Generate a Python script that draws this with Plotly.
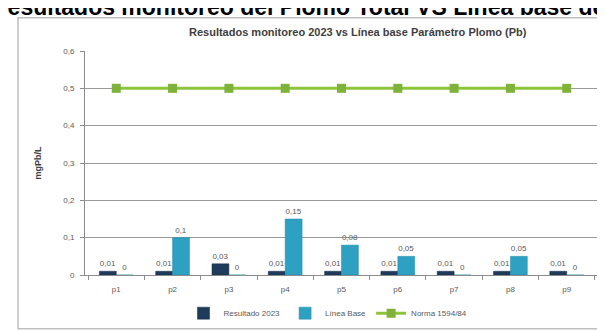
import plotly.graph_objects as go

categories = ["p1", "p2", "p3", "p4", "p5", "p6", "p7", "p8", "p9"]
resultado_2023 = [0.01, 0.01, 0.03, 0.01, 0.01, 0.01, 0.01, 0.01, 0.01]
linea_base = [0, 0.1, 0, 0.15, 0.08, 0.05, 0, 0.05, 0]
norma = [0.5, 0.5, 0.5, 0.5, 0.5, 0.5, 0.5, 0.5, 0.5]
y_ticks = [0, 0.1, 0.2, 0.3, 0.4, 0.5, 0.6]
y_tick_labels = ["0", "0,1", "0,2", "0,3", "0,4", "0,5", "0,6"]


def fmt(v):
    return ("%g" % v).replace(".", ",")


W, H = 605, 332
L, R, T, B = 77, 15, 43, 60
pw, ph = W - L - R, H - T - B


def px(x):
    return (x - L) / pw


def py(y):
    return (H - B - y) / ph


grey = "#595959"
fig = go.Figure()
fig.add_trace(go.Bar(
    x=categories, y=resultado_2023, name="Resultado 2023",
    marker=dict(color="#1f3b5c", line=dict(color="#16293f", width=0.5)),
    text=[fmt(v) for v in resultado_2023], textposition="outside",
    textfont=dict(size=8, color=grey), cliponaxis=False,
))
fig.add_trace(go.Bar(
    x=categories, y=linea_base, name="Línea Base",
    marker=dict(color="#2ea0c2", line=dict(color="#1f8aa8", width=0.5)),
    text=[fmt(v) for v in linea_base], textposition="outside",
    textfont=dict(size=8, color=grey), cliponaxis=False,
))
fig.add_trace(go.Scatter(
    x=categories, y=norma, name="Norma 1594/84", mode="lines+markers",
    line=dict(color="#8cc43c", width=3),
    marker=dict(symbol="square", size=9, color="#7fb23a"),
))

fig.update_layout(
    width=W, height=H,
    margin=dict(l=L, r=R, t=T, b=B),
    paper_bgcolor="white", plot_bgcolor="white",
    font=dict(family="Liberation Sans, Arial, sans-serif", size=8, color=grey),
    barmode="group", bargap=0.4, bargroupgap=0.0,
    showlegend=True,
    legend=dict(orientation="h", x=px(320), xanchor="center", y=py(311), yanchor="middle",
                font=dict(size=8, color=grey), traceorder="normal", itemwidth=30,
                bgcolor="rgba(0,0,0,0)"),
    xaxis=dict(showline=True, linecolor="#8c8c8c", ticks="outside", tickcolor="#8c8c8c",
               ticklen=4, tickson="boundaries", showgrid=False, ticklabelstandoff=6,
               tickfont=dict(size=8, color=grey)),
    yaxis=dict(range=[0, 0.6], tickvals=y_ticks, ticktext=y_tick_labels,
               showline=True, linecolor="#8c8c8c", ticks="outside", tickcolor="#8c8c8c",
               ticklen=4, showgrid=True, gridcolor="#9a9a9a", gridwidth=1,
               zeroline=False, tickfont=dict(size=8, color=grey), ticklabelstandoff=4,
               title=dict(text="<b>mgPb/L</b>", font=dict(size=9, color="#404040"), standoff=20)),
    separators=",.",
)

fig.add_shape(type="rect", xref="paper", yref="paper",
              x0=px(10), x1=px(598), y0=py(327), y1=py(9),
              line=dict(color="#bfbfbf", width=1.5), fillcolor="rgba(0,0,0,0)", layer="below")

fig.add_annotation(text="<b>Resultados monitoreo 2023 vs Línea base Parámetro Plomo (Pb)</b>",
                   xref="paper", yref="paper", x=px(350), y=py(24),
                   xanchor="center", yanchor="middle", showarrow=False,
                   font=dict(size=11, color="#404040"))

fig.add_annotation(text="<b>Resultados monitoreo del Plomo Total VS Línea base de</b>",
                   xref="paper", yref="paper", x=px(290), y=py(-2),
                   xanchor="center", yanchor="middle", showarrow=False,
                   font=dict(size=23, color="black", family="Liberation Sans, Arial, sans-serif"))

fig.write_html("out.html")
